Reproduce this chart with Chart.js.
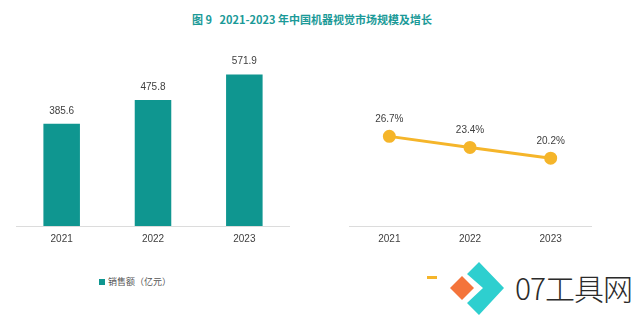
<!DOCTYPE html>
<html>
<head>
<meta charset="utf-8">
<script src="https://cdn.jsdelivr.net/npm/chart.js@4"></script>
<style>
  body { margin: 0; background: #fff; width: 640px; height: 322px; position: relative; overflow: hidden; font-family: "Noto Sans CJK SC", "Noto Sans", sans-serif; }
  #title { position: absolute; left: 0; width: 624px; top: 11px; text-align: center; font-size: 11px; font-weight: bold; color: #1b9a98; }
  .box { position: absolute; top: 30px; height: 222px; }
  #legL { position: absolute; left: 99px; top: 275px; font-size: 9px; color: #555; }
  #legL i { display: inline-block; width: 6px; height: 6px; background: #0f9690; margin-right: 3px; vertical-align: 0; }
  #legR { position: absolute; left: 427px; top: 271px; font-size: 9px; color: #555; }
  #legR i { display: inline-block; width: 10px; height: 3px; background: #f5b52a; margin-right: 4px; vertical-align: 2px; }
  #wm { position: absolute; left: 440px; top: 258px; width: 200px; height: 64px; background: #fff; }
  #wm span { position: absolute; left: 75px; top: 11px; font-size: 30px; line-height: 36px; color: #2b2b2b; font-weight: 300; letter-spacing: -1px; }
</style>
</head>
<body>
<div id="title">图 9&nbsp;&nbsp;&nbsp;2021-2023 年中国机器视觉市场规模及增长</div>
<div class="box" style="left:16px;width:274px"><canvas id="bar"></canvas></div>
<div class="box" style="left:341px;width:258px"><canvas id="line"></canvas></div>
<div id="legL"><i></i>销售额（亿元）</div>
<div id="legR"><i></i>增长率</div>
<div id="wm">
  <svg width="75" height="64" style="position:absolute;left:0;top:0">
    <polygon points="10,30 22,18 34,30 22,42" fill="#f4743b"/>
    <polygon points="27,16 39,4 64,30 39,57 27,45 43,30" fill="#2ecfcf"/>
  </svg>
  <span>07工具网</span>
</div>
<script>
const years = ['2021', '2022', '2023'];
const sales = [385.6, 475.8, 571.9];
const growth = [26.7, 23.4, 20.2];

const valueLabels = {
  id: 'valueLabels',
  afterDatasetsDraw(chart, args, opts) {
    const ctx = chart.ctx;
    const meta = chart.getDatasetMeta(0);
    ctx.save();
    ctx.font = '10px "Liberation Sans", Arial, sans-serif';
    ctx.fillStyle = '#404040';
    ctx.textAlign = 'center';
    ctx.textBaseline = 'middle';
    meta.data.forEach((el, i) => {
      const v = chart.data.datasets[0].data[i];
      ctx.fillText(v.toFixed(1) + opts.suffix, el.x, el.y - opts.offset);
    });
    ctx.restore();
  }
};

const xAxis = {
  offset: true,
  grid: { display: false, drawTicks: false },
  border: { display: true, color: '#dcdcdc', width: 1 },
  ticks: { color: '#404040', font: { size: 10, family: '"Liberation Sans", Arial, sans-serif' }, padding: 7 }
};

new Chart(document.getElementById('bar'), {
  type: 'bar',
  data: { labels: years, datasets: [{ data: sales, backgroundColor: '#0f9690', categoryPercentage: 1, barPercentage: 0.4 }] },
  options: {
    responsive: true, maintainAspectRatio: false, animation: false,
    plugins: { legend: { display: false }, tooltip: { enabled: false }, valueLabels: { suffix: '', offset: 13 } },
    scales: { x: xAxis, y: { display: false, min: 0, max: 740 } }
  },
  plugins: [valueLabels]
});

new Chart(document.getElementById('line'), {
  type: 'line',
  data: { labels: years, datasets: [{ data: growth, borderColor: '#f5b52a', borderWidth: 3, pointRadius: 5, pointBackgroundColor: '#f5b52a', pointBorderColor: '#f5b52a' }] },
  options: {
    responsive: true, maintainAspectRatio: false, animation: false,
    plugins: { legend: { display: false }, tooltip: { enabled: false }, valueLabels: { suffix: '%', offset: 17 } },
    scales: { x: xAxis, y: { display: false, min: 0, max: 56 } }
  },
  plugins: [valueLabels]
});
</script>
</body>
</html>
